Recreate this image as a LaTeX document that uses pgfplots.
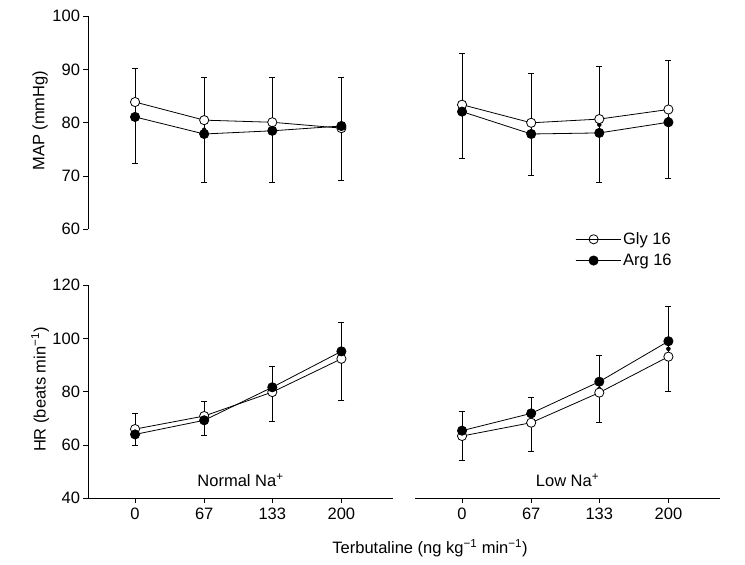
\documentclass[border=0pt]{standalone}
\usepackage{fontspec}
\setmainfont{Liberation Sans}
\usepackage{pgfplots}
\usepackage{pgfplotstable}
\pgfplotsset{compat=1.18}

% x  gly  arg  lo  hi   (lo/hi = ends of the error bar)
\pgfplotstableread{
x   gly   arg   lo    hi
0   83.9  81.1  72.3  90.2
67  80.5  77.9  68.9  88.5
133 80.1  78.5  68.9  88.5
200 79.0  79.4  69.1  88.5
}\mapnormal
\pgfplotstableread{
x   gly   arg   lo    hi
0   83.4  82.1  73.4  93.0
67  80.0  77.9  70.1  89.3
133 80.7  78.1  68.8  90.5
200 82.5  80.1  69.6  91.8
}\maplow
\pgfplotstableread{
x   gly   arg   lo    hi
0   66.0  64.0  59.9  71.8
67  70.9  69.3  63.7  76.3
133 79.9  81.7  68.9  89.6
200 92.4  95.2  76.8  106.1
}\hrnormal
\pgfplotstableread{
x   gly   arg   lo    hi
0   63.4  65.4  54.1  72.5
67  68.4  71.9  57.8  77.9
133 79.7  83.8  68.4  93.7
200 93.2  99.0  80.2  112.1
}\hrlow

\newcommand{\fs}{\fontsize{16.5}{19}\selectfont}

\pgfplotsset{
  panel/.style={
    scale only axis, width=305pt, height=213pt,
    xmin=-45.6, xmax=250,
    xtick={0,67,133,200},
    tick align=outside, major tick length=4.5pt,
    tick style={black, line width=0.8pt},
    axis line style={line width=0.8pt},
    /pgf/number format/assume math mode=true,
    tick label style={font=\fs},
    xticklabel style={yshift=-2pt},
    label style={font=\fs},
    ylabel style={at={(axis description cs:-0.157,0.51)}, anchor=center},
    clip=false,
  },
  gly/.style={black, line width=0.8pt, mark=*, mark size=4.6pt,
    mark options={fill=white, line width=0.8pt}},
  arg/.style={black, line width=0.8pt, mark=*, mark size=4.6pt,
    mark options={fill=black, line width=0.8pt}},
  errs/.style={black, only marks, mark=none, forget plot,
    error bars/.cd, y dir=both, y explicit,
    error bar style={line width=0.8pt},
    error mark options={rotate=90, black, mark size=3pt, line width=0.8pt}},
}

\begin{document}
\begin{tikzpicture}
\path[use as bounding box] (0,0) rectangle (745pt,-565pt);

% MAP, normal Na+
\begin{axis}[panel, at={(88pt,-229.3pt)}, anchor=south west,
  hide x axis, axis y line*=left,
  ymin=60, ymax=100, ytick={60,70,80,90,100},
  ylabel={MAP (mmHg)}]
\addplot[errs] table[x=x, y expr={(\thisrow{lo}+\thisrow{hi})/2},
  y error expr={(\thisrow{hi}-\thisrow{lo})/2}] {\mapnormal};
\addplot[gly] table[x=x, y=gly] {\mapnormal};
\addplot[arg] table[x=x, y=arg] {\mapnormal};
\end{axis}

% MAP, low Na+
\begin{axis}[panel, at={(415pt,-229.3pt)}, anchor=south west,
  hide axis, ymin=60, ymax=100,
  legend style={draw=none, fill=none, inner sep=0pt, font=\fs,
    at={(axis description cs:0.5246,-0.005)}, anchor=north west,
    row sep=4pt},
  legend cell align=left,
  legend image code/.code={
    \draw[mark repeat=2, mark phase=2, #1]
      plot coordinates {(0pt,0pt) (18pt,0pt) (32pt,0pt)};
    \path (0pt,0pt) -- (45pt,0pt);}]
\addplot[errs] table[x=x, y expr={(\thisrow{lo}+\thisrow{hi})/2},
  y error expr={(\thisrow{hi}-\thisrow{lo})/2}] {\maplow};
\addplot[gly] table[x=x, y=gly] {\maplow};
\addplot[arg] table[x=x, y=arg] {\maplow};
\legend{Gly 16, Arg 16}
\end{axis}

% HR, normal Na+
\begin{axis}[panel, at={(88pt,-498.3pt)}, anchor=south west,
  axis x line*=bottom, axis y line*=left,
  ymin=40, ymax=120, ytick={40,60,80,100,120},
  ylabel={HR (beats min\textsuperscript{−1})}]
\addplot[errs] table[x=x, y expr={(\thisrow{lo}+\thisrow{hi})/2},
  y error expr={(\thisrow{hi}-\thisrow{lo})/2}] {\hrnormal};
\addplot[gly] table[x=x, y=gly] {\hrnormal};
\addplot[arg] table[x=x, y=arg] {\hrnormal};
\node[font=\fs] at (axis description cs:0.5,0.085) {Normal Na\textsuperscript{+}};
\end{axis}

% HR, low Na+
\begin{axis}[panel, at={(415pt,-498.3pt)}, anchor=south west,
  hide y axis, axis x line*=bottom,
  ymin=40, ymax=120]
\addplot[errs] table[x=x, y expr={(\thisrow{lo}+\thisrow{hi})/2},
  y error expr={(\thisrow{hi}-\thisrow{lo})/2}] {\hrlow};
\addplot[gly] table[x=x, y=gly] {\hrlow};
\addplot[arg] table[x=x, y=arg] {\hrlow};
\node[font=\fs] at (axis description cs:0.5,0.085) {Low Na\textsuperscript{+}};
\end{axis}

\node[font=\fs] at (430pt,-548pt)
  {Terbutaline (ng kg\textsuperscript{−1} min\textsuperscript{−1})};
\end{tikzpicture}
\end{document}
